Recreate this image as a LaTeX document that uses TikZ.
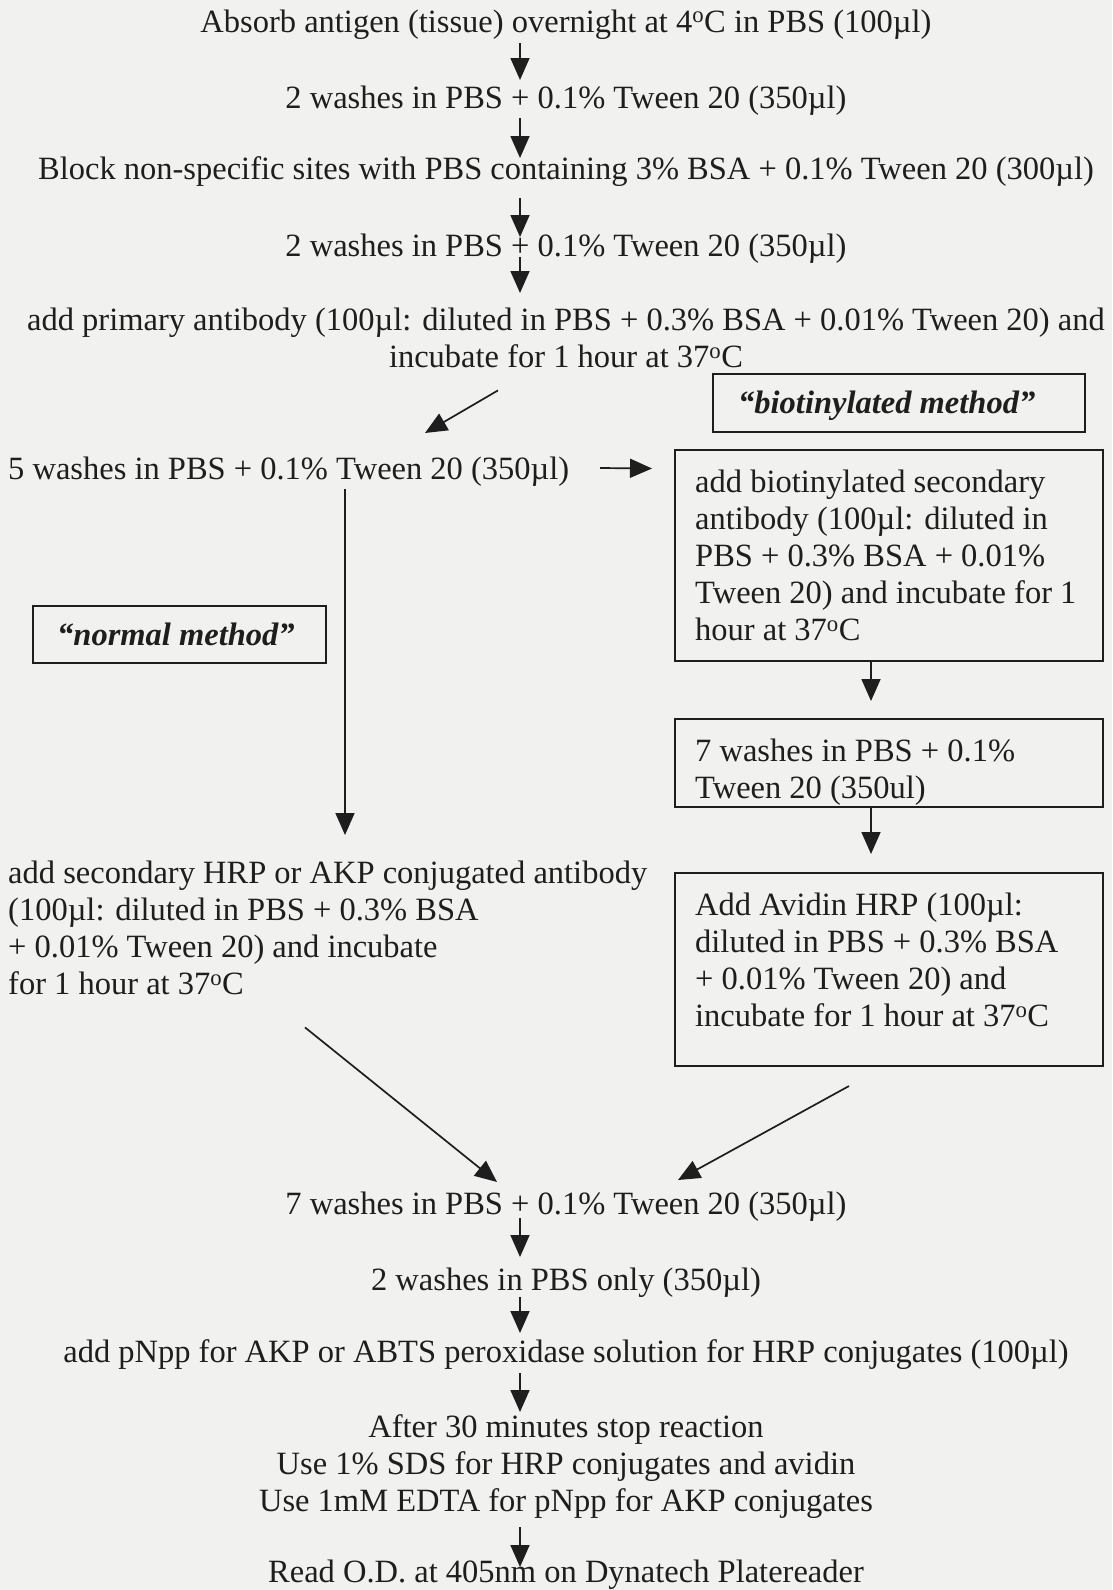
\documentclass[tikz,border=0pt]{standalone}
\usepackage{fontspec}
\setmainfont{Liberation Serif}
\usetikzlibrary{arrows.meta,calc}
\definecolor{paper}{HTML}{F1F1F0}
\definecolor{ink}{HTML}{1E1E1E}
\tikzset{
  txt/.style={inner sep=0pt, text=ink, font=\fontsize{32.5}{37}\selectfont},
  line1/.style={txt, anchor=base},
  boxframe/.style={draw=ink, line width=2pt, inner sep=0pt},
  arr/.style={draw=ink, line width=1.7pt, -{Triangle[length=22pt,width=19pt]}},
  tag/.style={txt, font=\fontsize{32.5}{37}\selectfont\bfseries\itshape, anchor=base west},
}
\begin{document}
\begin{tikzpicture}[x=1pt,y=-1pt]
\fill[paper] (0,0) rectangle (1112,1590);
\useasboundingbox (0,0) rectangle (1112,1590);

% main column
\node[line1] (t1) at (566,32) {Absorb antigen (tissue) overnight at 4\textsuperscript{o}C in PBS (100µl)};
\node[line1] (t2) at (566,108) {2 washes in PBS + 0.1\% Tween 20 (350µl)};
\node[line1] (t3) at (566,179) {Block non-specific sites with PBS containing 3\% BSA + 0.1\% Tween 20 (300µl)};
\node[line1] (t4) at (566,256) {2 washes in PBS + 0.1\% Tween 20 (350µl)};
\node[txt, align=center, anchor=north] (t5) at (566,304) {\strut add primary antibody (100µl: diluted in PBS + 0.3\% BSA + 0.01\% Tween 20) and\\incubate for 1 hour at 37\textsuperscript{o}C\strut};
\node[txt, anchor=base west] (t6) at (8,479) {5 washes in PBS + 0.1\% Tween 20 (350µl)};

% method labels
\node[boxframe, minimum width=372pt, minimum height=58pt] (bio) at (899,403) {};
\node[tag] (biot) at (738,413) {“biotinylated method”};
\node[boxframe, minimum width=293pt, minimum height=57pt] (nm) at (179.5,634) {};
\node[tag] (nmt) at (57,645) {“normal method”};

% biotinylated branch
\node[boxframe, minimum width=428pt, minimum height=211pt] (b1) at (889,555.5) {};
\node[txt, align=left, anchor=north west] (b1t) at (695,466) {\strut add biotinylated secondary\\antibody (100µl: diluted in\\PBS + 0.3\% BSA + 0.01\%\\Tween 20) and incubate for 1\\hour at 37\textsuperscript{o}C};
\node[boxframe, minimum width=428pt, minimum height=88pt] (b2) at (889,763) {};
\node[txt, align=left, anchor=north west] (b2t) at (695,735) {\strut 7 washes in PBS + 0.1\%\\Tween 20 (350ul)};
\node[boxframe, minimum width=428pt, minimum height=193pt] (b3) at (889,969.5) {};
\node[txt, align=left, anchor=north west] (b3t) at (695,889) {\strut Add Avidin HRP (100µl:\\diluted in PBS + 0.3\% BSA\\+ 0.01\% Tween 20) and\\incubate for 1 hour at 37\textsuperscript{o}C};

% normal branch
\node[txt, align=left, anchor=north west] (t7) at (8,857) {\strut add secondary HRP or AKP conjugated antibody\\(100µl: diluted in PBS + 0.3\% BSA\\+ 0.01\% Tween 20) and incubate\\for 1 hour at 37\textsuperscript{o}C\strut};

% common end
\node[line1] (t8) at (566,1214) {7 washes in PBS + 0.1\% Tween 20 (350µl)};
\node[line1] (t9) at (566,1290) {2 washes in PBS only (350µl)};
\node[line1] (t10) at (566,1362) {add pNpp for AKP or ABTS peroxidase solution for HRP conjugates (100µl)};
\node[txt, align=center, anchor=north] (t11) at (566,1411) {\strut After 30 minutes stop reaction\\Use 1\% SDS for HRP conjugates and avidin\\Use 1mM EDTA for pNpp for AKP conjugates\strut};
\node[line1] (t12) at (566,1582) {Read O.D. at 405nm on Dynatech Platereader};

% connectors
\draw[arr] ($(t1.base)+(-46,11)$) -- ($(t2.base)+(-46,-28)$);
\draw[arr] ($(t2.base)+(-46,10)$) -- ($(t3.base)+(-46,-21)$);
\draw[arr] ($(t3.base)+(-46,19)$) -- ($(t4.base)+(-46,-19)$);
\draw[arr] ($(t4.base)+(-46,1)$) -- ($(t5.north)+(-46,-11)$);
\draw[arr] ($(t5.south)+(-68,12)$) -- ($(t6.base west)+(417,-46)$);
\draw[arr] ($(t6.base west)+(592,-11)$) -- ($(b1)+(-237,-87)$);
\draw[arr] ($(t6.base west)+(337,10)$) -- ($(t7.north west)+(337,-22)$);
\draw[arr] ($(b1.south)+(-18,0)$) -- ($(b2.north)+(-18,-17)$);
\draw[arr] ($(b2.south)+(-18,0)$) -- ($(b3.north)+(-18,-18)$);
\draw[arr] ($(t7.south west)+(297,22)$) -- ($(t8.base)+(-69,-32)$);
\draw[arr] ($(b3.south)+(-40,19)$) -- ($(t8.base)+(112,-34)$);
\draw[arr] ($(t8.base)+(-46,4)$) -- ($(t9.base)+(-46,-33)$);
\draw[arr] ($(t9.base)+(-46,7)$) -- ($(t10.base)+(-46,-29)$);
\draw[arr] ($(t10.base)+(-46,11)$) -- ($(t11.north)+(-46,1)$);
\draw[arr] ($(t11.south)+(-46,5)$) -- ($(t12.base)+(-46,-15)$);
\end{tikzpicture}
\end{document}
